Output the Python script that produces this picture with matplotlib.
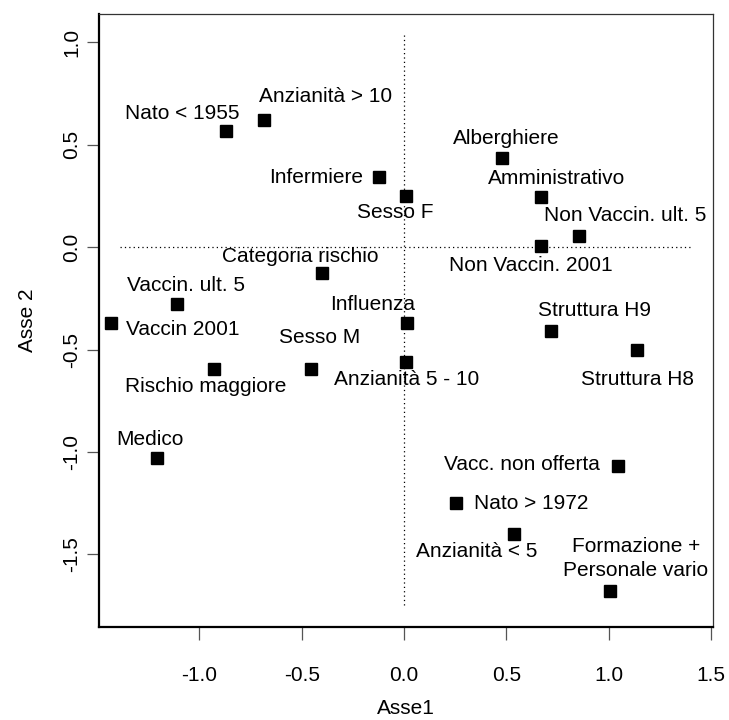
import matplotlib
matplotlib.use("Agg")
import matplotlib.pyplot as plt

plt.rcParams.update({
    "font.family": ["Liberation Sans", "DejaVu Sans"],
    "font.size": 15,
})

# ---- data: correspondence analysis coordinates -------------------------------
labels = [
    "Nato < 1955", "Anzianità > 10", "Infermiere", "Sesso F", "Alberghiere",
    "Amministrativo", "Non Vaccin. ult. 5", "Non Vaccin. 2001",
    "Categoria rischio", "Vaccin. ult. 5", "Vaccin 2001", "Influenza",
    "Struttura H9", "Struttura H8", "Rischio maggiore", "Sesso M",
    "Anzianità 5 - 10", "Medico", "Vacc. non offerta", "Nato > 1972",
    "Anzianità < 5", "Formazione +\nPersonale vario",
]
asse1 = [-0.87, -0.684, -0.122, 0.01, 0.48, 0.67, 0.855, 0.67,
         -0.40, -1.11, -1.43, 0.015, 0.72, 1.14, -0.93, -0.455,
         0.01, -1.207, 1.045, 0.254, 0.537, 1.006]
asse2 = [0.566, 0.62, 0.34, 0.25, 0.434, 0.244, 0.054, 0.005,
         -0.127, -0.278, -0.37, -0.37, -0.41, -0.50, -0.595, -0.595,
         -0.56, -1.03, -1.07, -1.25, -1.40, -1.68]

# label offsets from each point (pixels, x right / y up) -- layout only
offsets = [(-44, 18), (62, 23), (-63, 0), (-11, -17), (4, 20),
           (15, 19), (46, 20), (-10, -19), (-22, 17), (9, 19),
           (71, -7), (-34, 18), (43, 21), (0, -30), (-8, -18),
           (9, 31), (1, -18), (-7, 19), (-96, 2), (75, 0),
           (-37, -18), (26, 33)]

DPI = 100
fig = plt.figure(figsize=(7.29, 7.20), dpi=DPI)
ax = fig.add_axes([99 / 729, 1 - 627 / 720, (713 - 99) / 729, (627 - 14) / 720])

# reference lines through origin
ax.hlines(0, -1.387, 1.407, colors="black", linestyles=(0, (1, 2.5)), lw=0.9)
ax.vlines(0, -1.746, 1.034, colors="black", linestyles=(0, (1, 2.5)), lw=0.9)

ax.plot(asse1, asse2, "s", color="black", markersize=9, linestyle="none")

px = 72 / DPI
for lab, x, y, (dx, dy) in zip(labels, asse1, asse2, offsets):
    ax.annotate(lab, (x, y), xytext=(dx * px, dy * px), textcoords="offset points",
                ha="center", va="center", fontsize=15, linespacing=1.3)

ax.set_xlim(-1.49, 1.5095)
ax.set_ylim(-1.854, 1.137)
ax.set_xticks([-1.0, -0.5, 0.0, 0.5, 1.0, 1.5])
ax.set_xticklabels(["-1.0", "-0.5", "0.0", "0.5", "1.0", "1.5"])
ax.set_yticks([-1.5, -1.0, -0.5, 0.0, 0.5, 1.0])
ax.set_yticklabels(["-1.5", "-1.0", "-0.5", "0.0", "0.5", "1.0"], rotation=90, va="center")
ax.tick_params(axis="x", direction="out", length=9, width=0.9, pad=19, labelsize=15,
               color="#555555")
ax.tick_params(axis="y", direction="out", length=9, width=0.9, pad=4, labelsize=15,
               color="#555555")

for side in ("left", "bottom"):
    ax.spines[side].set_linewidth(1.6)
for side in ("top", "right"):
    ax.spines[side].set_linewidth(0.9)
    ax.spines[side].set_color("#333333")

ax.set_xlabel("Asse1", fontsize=15, labelpad=10)
ax.set_ylabel("Asse 2", fontsize=15, labelpad=18)

fig.savefig("out.png", dpi=DPI, facecolor="white")
